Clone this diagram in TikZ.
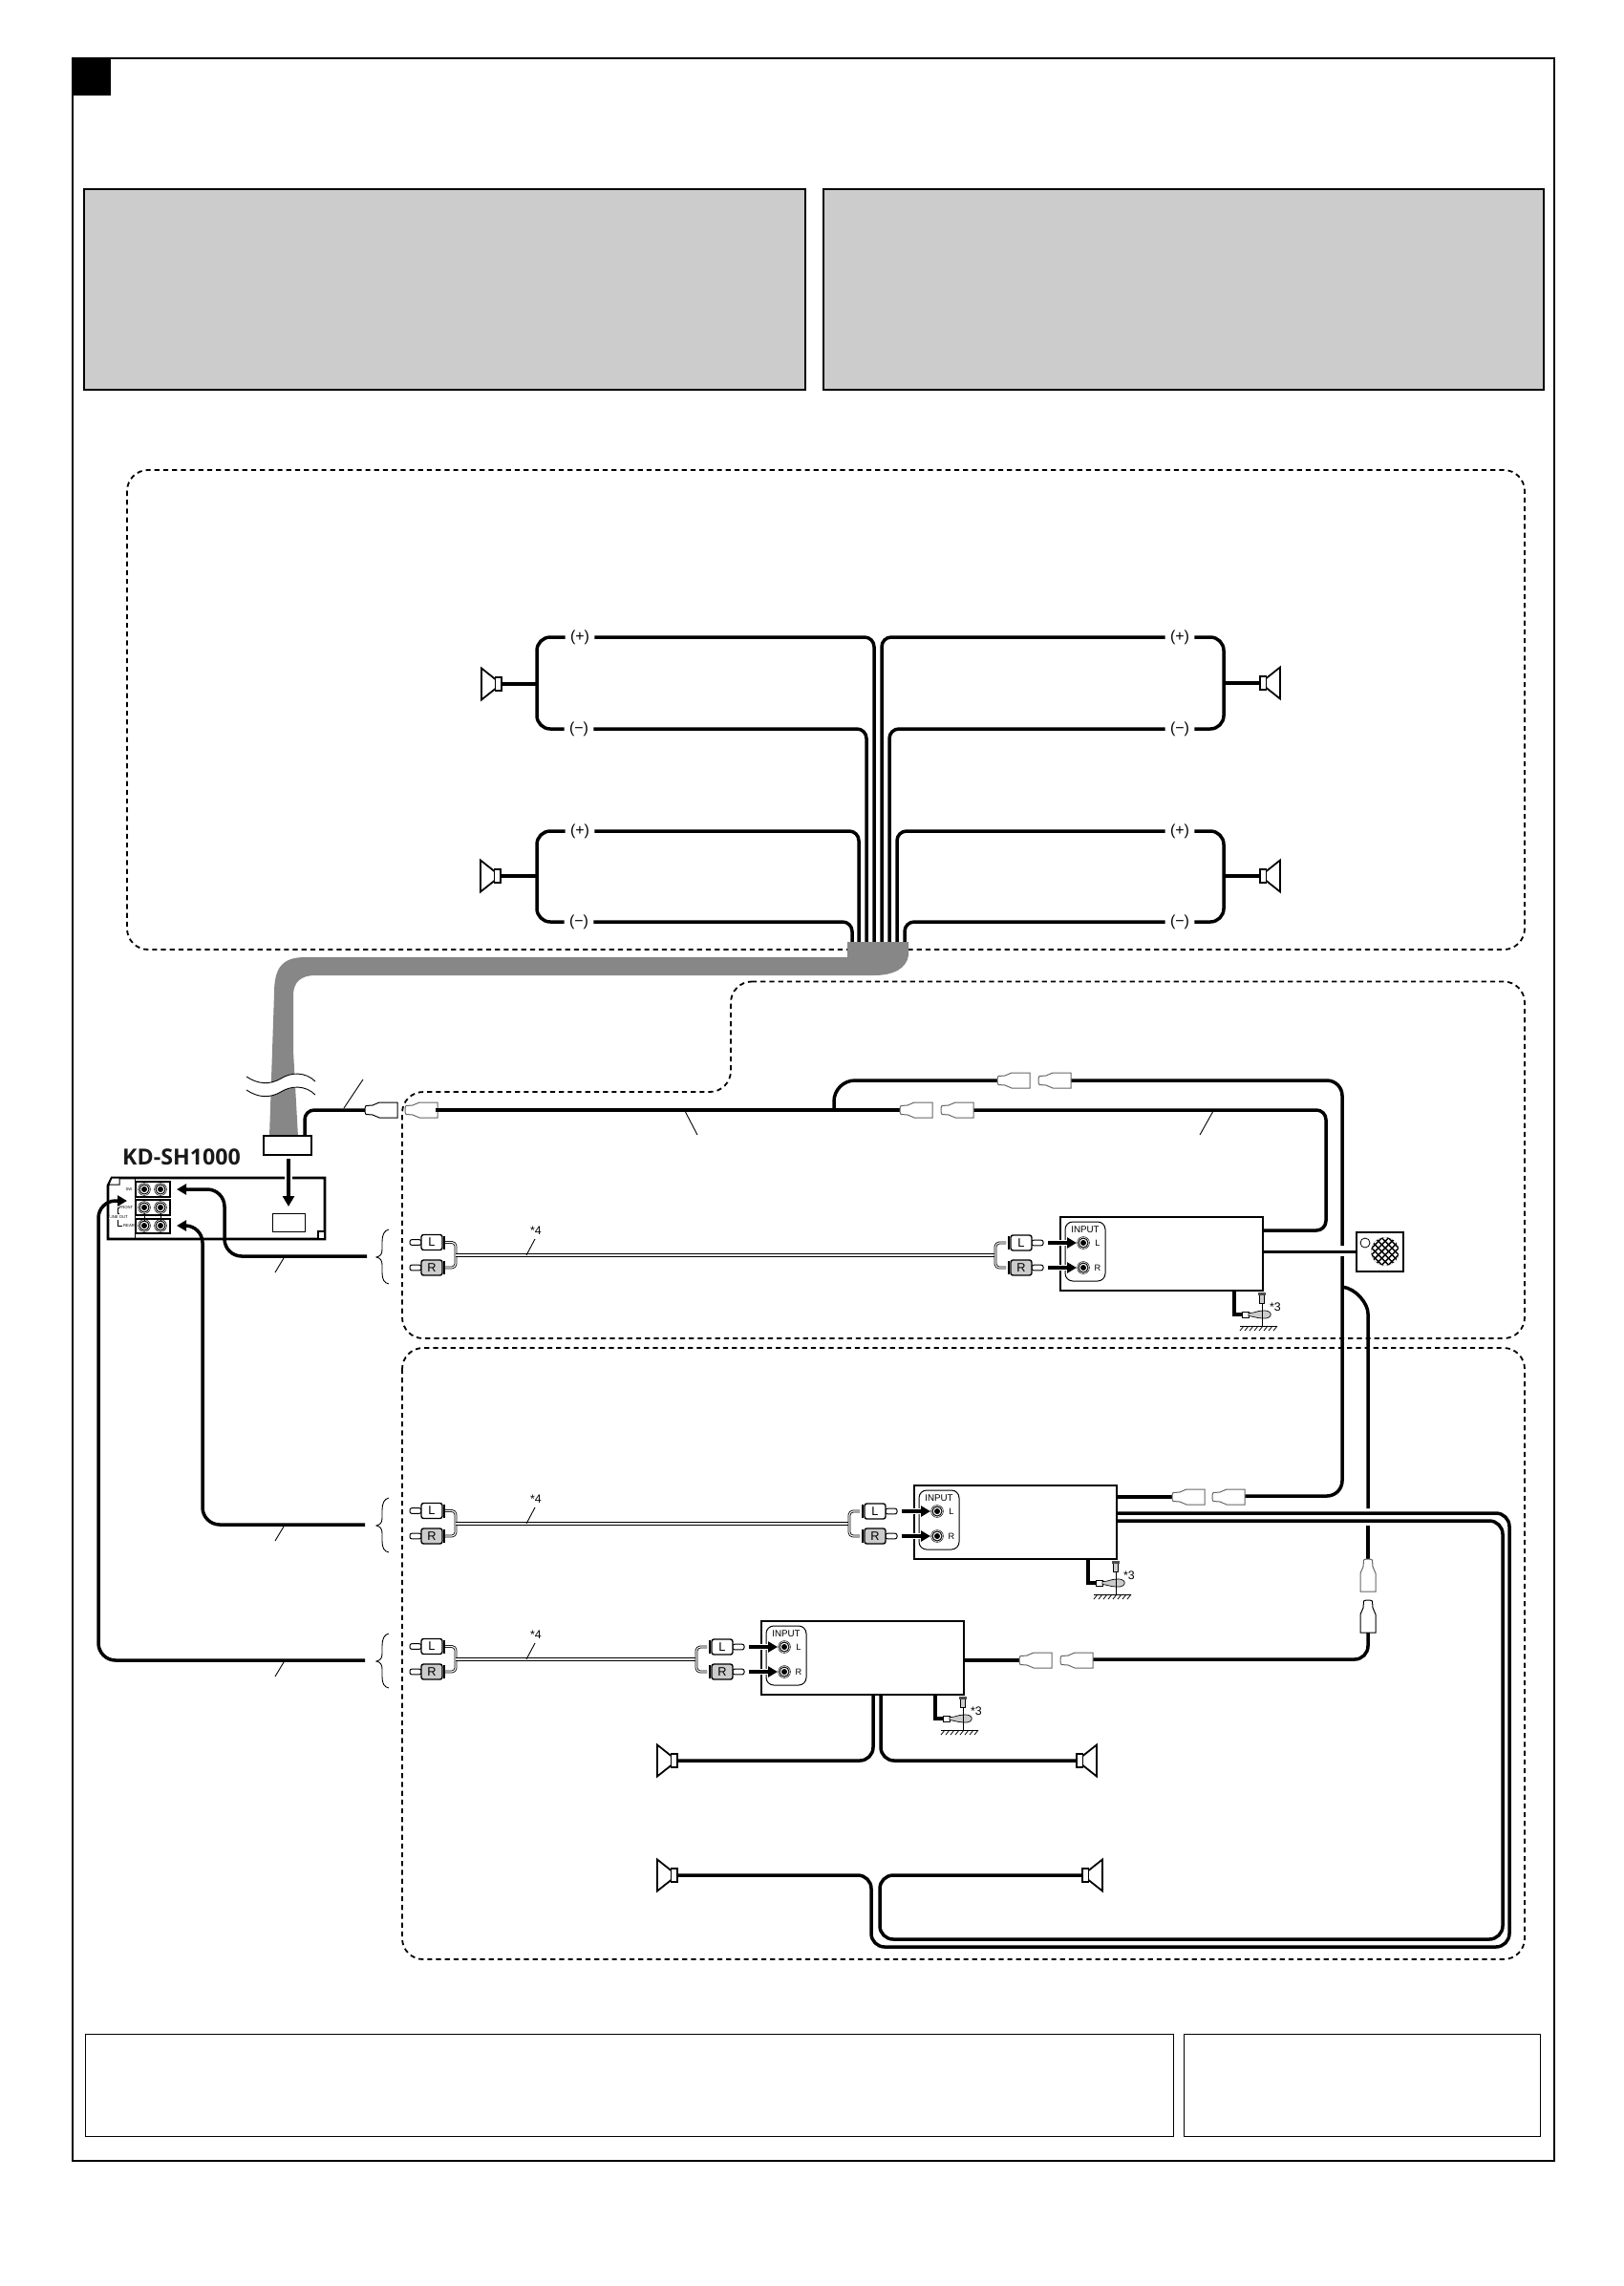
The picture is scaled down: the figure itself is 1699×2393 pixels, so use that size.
\documentclass[tikz,border=0pt]{standalone}
\usepackage{fontspec}
\setmainfont{Liberation Sans}
\newfontfamily\kdfont{Open Sans}
\newfontfamily\tinyfam[Scale=0.3]{Liberation Sans}
\usetikzlibrary{arrows.meta}
\definecolor{bandgray}{gray}{0.53}
\definecolor{panelgray}{gray}{0.80}
\tikzset{
  wire/.style={line width=1.75pt,line join=round,rounded corners=5pt},
  bigwire/.style={wire,rounded corners=7pt},
  arrowwire/.style={wire,-{Triangle[length=5pt,width=5.5pt]}},
  dashbox/.style={line width=.9pt,dash pattern=on 2.6pt off 2pt,rounded corners=11pt},
  thinl/.style={line width=.45pt},
  frameline/.style={line width=.9pt},
  cable/.style={line width=.42pt,double=white,double distance=.55pt,rounded corners=2pt},
  pm/.style={font=\fontsize{8}{9}\selectfont,inner sep=2.5pt},
  tinytext/.style={font=\fontsize{7}{8}\selectfont\tinyfam,inner sep=0pt},
  ampbox/.style={draw,fill=white,line width=1.1pt,minimum width=106pt,minimum height=38.5pt,inner sep=0pt},
}
\newcommand{\spk}[4]{%
  \coordinate (#1) at (#2,#3);
  \begin{scope}[shift={(#2,#3)},xscale=#4]
    \draw[line width=.9pt] (0,-7) rectangle (-6.5,7);
    \draw[line width=.9pt,line join=miter] (-6.5,-5) -- (-21,-16.5) -- (-21,16.5) -- (-6.5,5);
  \end{scope}}
\newcommand{\conn}[4]{%
  \begin{scope}[shift={(#1,#2)},rotate=#3]
    \draw[line width=.5pt,draw=#4,fill=white] (0,-2) -- (1,-4.5) -- (8,-5) -- (15,-8) -- (34,-8) -- (34,8) -- (15,8) -- (8,5) -- (1,4.5) -- (0,2) -- cycle;
  \end{scope}}
\newcommand{\plug}[6]{%
  \begin{scope}[shift={(#1,#2)},xscale=#5]
    \draw[line width=.5pt,fill=white,rounded corners=1pt] (11,-2.8) -- (23,-2.8) -- (23,2.8) -- (11,2.8) -- cycle;
    \draw[line width=1pt] (-13,-7) -- (-13,7);
    \draw[line width=.7pt,fill=#4,rounded corners=1.2pt] (-11,-8) rectangle (11,8);
    \node[font=\fontsize{6.4}{7}\selectfont,inner sep=0pt] (#6) at (0,0) {#3};
  \end{scope}}
\newcommand{\jackmark}[2]{%
  \fill (#1,#2) circle [radius=3];
  \draw[line width=.5pt] (#1,#2) circle [radius=5];
  \draw[line width=.25pt] (#1,#2) circle [radius=6.4];}
\newcommand{\ampunit}[3]{% name, dx, dy
  \pgfmathsetmacro\cableend{1042+#2}
  \begin{scope}[shift={(0,#3)}]
    \plug{452}{1300.5}{L}{white}{-1}{#1ll}
    \plug{452}{1327}{R}{panelgray}{-1}{#1lr}
    \draw[cable] (466,1300.5) -- (477,1300.5) -- (477,1314);
    \draw[cable] (466,1327) -- (477,1327) -- (477,1314);
    \fill (477,1311.7) rectangle (\cableend,1316.3);
    \fill[white] (477,1313.2) rectangle (\cableend,1314.8);
    \draw[thinl] (407,1287) .. controls (402,1288) and (400,1293) .. (400,1300) -- (400,1308) .. controls (400,1313) and (398,1315) .. (394,1316) .. controls (398,1317) and (400,1319) .. (400,1324) -- (400,1332) .. controls (400,1339) and (402,1343) .. (407,1344);
    \draw[thinl] (551,1314) -- (560,1297);
    \node[font=\fontsize{6.2}{7}\selectfont,inner sep=0pt] (#1cf) at (561,1288) {*4};
  \end{scope}
  \begin{scope}[shift={(#2,#3)}]
    \draw[cable] (1042,1314) -- (1042,1301) -- (1053,1301);
    \draw[cable] (1042,1314) -- (1042,1327) -- (1053,1327);
    \plug{1069}{1301}{L}{white}{1}{#1rl}
    \plug{1069}{1327}{R}{panelgray}{1}{#1rr}
    \node[ampbox] (#1) at (1216,1312.5) {};
    \draw[line width=.5pt,rounded corners=4pt] (1115,1279) rectangle (1157,1341);
    \node[font=\fontsize{4.9}{6}\selectfont,inner sep=0pt] (#1in) at (1136,1287.5) {INPUT};
    \jackmark{1134}{1301}
    \jackmark{1134}{1327}
    \node[font=\fontsize{4.6}{6}\selectfont,inner sep=0pt] (#1jl) at (1149,1301) {L};
    \node[font=\fontsize{4.6}{6}\selectfont,inner sep=0pt] (#1jr) at (1149,1327) {R};
    \draw[white,line width=3.2pt] (1097,1301) -- (1124,1301);
    \draw[white,line width=3.2pt] (1097,1327) -- (1124,1327);
    \draw[line width=1.75pt,-{Triangle[length=5pt,width=5.5pt]}] (1097,1301) -- (1127,1301);
    \draw[line width=1.75pt,-{Triangle[length=5pt,width=5.5pt]}] (1097,1327) -- (1127,1327);
    % ground
    \draw[line width=1.6pt,line join=miter] (1292,1351) -- (1292,1376) -- (1301,1376);
    \draw[line width=.35pt,fill=white] (1300,1373) rectangle (1307,1379);
    \draw[line width=.35pt,fill=panelgray] (1307,1374.5) .. controls (1312,1375) and (1316,1372) .. (1322,1372) .. controls (1333,1371) and (1333,1381) .. (1322,1380) .. controls (1316,1380) and (1312,1378) .. (1307,1377.5) -- cycle;
    \draw[line width=.35pt] (1321,1364) -- (1321,1388);
    \draw[line width=.35pt,fill=panelgray] (1318.5,1354) rectangle (1323.5,1364);
    \fill[black!70] (1317,1353) rectangle (1325,1356);
    \draw[line width=.5pt] (1298,1388) -- (1337,1388);
    \foreach \hatchx in {1302,1307,...,1337} \draw[line width=.4pt] (\hatchx,1388) -- (\hatchx-4,1393);
    \node[font=\fontsize{6.2}{7}\selectfont,inner sep=0pt] (#1st) at (1335,1368) {*3};
  \end{scope}}
\begin{document}
\begin{tikzpicture}[x=.5pt,y=-.5pt]
\useasboundingbox (0,0) rectangle (1699,2393);
\fill[white] (0,0) rectangle (1699,2393);
% page frame
\draw[frameline] (76,61) rectangle (1627,2262);
\fill (76,61) rectangle (116,100);
\draw[frameline,fill=panelgray] (88,198) rectangle (843,408);
\draw[frameline,fill=panelgray] (862,198) rectangle (1616,408);
\draw[line width=.4pt] (89,2129) rectangle (1228,2236);
\draw[line width=.4pt] (1239,2129) rectangle (1612,2236);
% dashed regions
\draw[dashbox] (133,492) rectangle (1596,994);
\draw[dashbox] (765,1027.5) -- (1596,1027.5) -- (1596,1401) -- (421,1401) -- (421,1143) -- (765,1143) -- cycle;
\draw[dashbox] (421,1411) rectangle (1596,2051);
% --- front speakers
\node[pm] (tlp) at (607,667) {(+)};
\node[pm] (tlm) at (606,763) {(−)};
\node[pm] (blp) at (607,870) {(+)};
\node[pm] (blm) at (606,965) {(−)};
\node[pm] (trp) at (1235,667) {(+)};
\node[pm] (trm) at (1235,763) {(−)};
\node[pm] (brp) at (1235,870) {(+)};
\node[pm] (brm) at (1235,965) {(−)};
\spk{sptl}{525}{716}{1}
\spk{spbl}{524}{917}{1}
\spk{sptr}{1319}{715}{-1}
\spk{spbr}{1319}{917}{-1}
\draw[bigwire] (tlp.west) -- (562,667) -- (562,763) -- (tlm.west);
\draw[bigwire] (blp.west) -- (562,870) -- (562,965) -- (blm.west);
\draw[bigwire] (trp.east) -- (1281,667) -- (1281,763) -- (trm.east);
\draw[bigwire] (brp.east) -- (1281,870) -- (1281,965) -- (brm.east);
\draw[wire] (sptl) -- (562,716);
\draw[wire] (spbl) -- (562,917);
\draw[wire] (sptr) -- (1281,715);
\draw[wire] (spbr) -- (1281,917);
\draw[wire] (tlp.east) -- (915,667) -- (915,988);
\draw[wire] (tlm.east) -- (907,763) -- (907,988);
\draw[wire] (blp.east) -- (899,870) -- (899,988);
\draw[wire] (blm.east) -- (892,965) -- (892,988);
\draw[wire] (trp.west) -- (923,667) -- (923,988);
\draw[wire] (trm.west) -- (931,763) -- (931,988);
\draw[wire] (brp.west) -- (939,870) -- (939,988);
\draw[wire] (brm.west) -- (947,965) -- (947,988);
% --- grey harness
\fill[bandgray] (887,986) -- (951,986) -- (951,1000) .. controls (949,1014) and (935,1021) .. (915,1021) -- (330,1021) .. controls (315,1021) and (307,1028) .. (307,1042) -- (307,1100) -- (312,1190) -- (282,1190) -- (285,1100) -- (287,1040) .. controls (287,1012) and (296,1002) .. (320,1002) -- (887,1002) -- cycle;
\fill[white] (258,1127) .. controls (270,1135) and (282,1136) .. (294,1129) .. controls (305,1122) and (320,1122) .. (330,1132) -- (330,1146) .. controls (320,1136) and (305,1136) .. (294,1143) .. controls (282,1150) and (270,1149) .. (258,1141) -- cycle;
\draw[line width=.45pt] (258,1127) .. controls (270,1135) and (282,1136) .. (294,1129) .. controls (305,1122) and (320,1122) .. (330,1132);
\draw[line width=.45pt] (258,1141) .. controls (270,1149) and (282,1150) .. (294,1143) .. controls (305,1136) and (320,1136) .. (330,1146);
% --- head unit
\node[draw,fill=white,line width=.7pt,minimum width=25pt,minimum height=10pt,inner sep=0pt] (hconn) at (301,1199) {};
\draw[line width=1.35pt,line join=miter] (117,1233) -- (340,1233) -- (340,1297) -- (113,1297) -- (113,1241) -- cycle;
\draw[line width=.5pt,fill=white] (117,1233) -- (125,1233) -- (125,1240) -- (114,1240) -- cycle;
\draw[line width=.8pt,fill=white] (333,1289) rectangle (340,1297);
\draw[line width=.4pt] (141,1234) -- (141,1297);
\draw[line width=.6pt] (142,1237) rectangle (178,1253);
\draw[line width=.6pt] (142,1256) rectangle (178,1272);
\draw[line width=.6pt] (142,1276) rectangle (178,1291);
\draw[line width=.5pt] (151,1270) -- (151,1278);
\draw[line width=.5pt] (168,1270) -- (168,1278);
\jackmark{151}{1245} \jackmark{151}{1264} \jackmark{151}{1283}
\jackmark{168}{1245} \jackmark{168}{1264} \jackmark{168}{1283}
\node[tinytext] (lblsw) at (135,1245) {SW};
\node[tinytext] (lblfront) at (132,1264) {FRONT};
\node[tinytext] (lblrear) at (135,1283) {REAR};
\node[tinytext,fill=white] (lineout) at (124,1274) {LINE OUT};
\draw[line width=.35pt] (125,1270) -- (123.5,1270) -- (123.5,1264) -- (125,1264);
\draw[line width=.35pt] (123.5,1277) -- (123.5,1283) -- (128,1283);
\node[draw,fill=white,line width=.5pt,minimum width=17pt,minimum height=9.5pt,inner sep=0pt] (hsock) at (302,1279.5) {};
\draw[white,line width=3.6pt] (302,1214) -- (302,1255);
\draw[line width=1.75pt,-{Triangle[length=5.5pt,width=6pt]}] (302,1213) -- (302,1263);
\node[font=\kdfont\bfseries\fontsize{11.6}{13}\selectfont,text=black!90,inner sep=0pt] (kdname) at (190,1211) {KD-SH1000};
% --- harness wire to first connector
\coordinate (c1in) at (382,1162);
\draw[wire] (319,1189) -- (319,1162) -- (c1in);
\draw[thinl] (360,1160) -- (380,1130);
\conn{382}{1162}{0}{black}
\conn{424}{1162}{0}{black!60}
% --- line-in amplifier units
\ampunit{ampa}{0}{0}
\ampunit{ampb}{-153}{281}
\ampunit{ampc}{-313}{423}
% --- RCA leads to head unit
\draw[arrowwire,rounded corners=9pt] (384,1315) -- (235,1315) -- (235,1245) -- (185,1245);
\draw[arrowwire,rounded corners=9pt] (382,1596) -- (212,1596) -- (212,1283) -- (185,1283);
\draw[arrowwire,rounded corners=9pt] (382,1738) -- (103,1738) -- (103,1257) -- (133,1257);
\draw[thinl] (297,1317) -- (288,1332);
\draw[thinl] (297,1598) -- (288,1613);
\draw[thinl] (297,1740) -- (288,1755);
% --- remote wires
\draw[wire] (456,1162) -- (945,1162);
\draw[wire] (1016,1162) -- (1388,1162) -- (1388,1288) -- (1322,1288);
\draw[wire,rounded corners=11pt] (873,1162) -- (873,1131) -- (1060,1131);
\draw[wire,rounded corners=8pt] (1100,1131) -- (1405,1131) -- (1405,1304);
\draw[wire,rounded corners=8pt] (1405,1315) -- (1405,1566) -- (1290,1566);
\draw[wire] (1168,1567) -- (1240,1567);
\draw[thinl] (717,1163) -- (730,1188);
\draw[thinl] (1256,1188) -- (1270,1163);
\conn{942}{1162}{0}{black!60}
\conn{985}{1162}{0}{black!60}
\conn{1044}{1131}{0}{black!60}
\conn{1087}{1131}{0}{black!60}
\conn{1227}{1567}{0}{black!60}
\conn{1269}{1567}{0}{black!60}
% --- subwoofer control
\node[draw,fill=white,line width=1pt,minimum width=24.5pt,minimum height=20.5pt,inner sep=0pt] (subw) at (1444.5,1310.5) {};
\draw[line width=.4pt] (1429,1301) circle [radius=5];
\begin{scope}
  \clip (1450,1310) circle [radius=14.8];
  \fill (1450,1310) circle [radius=14.8];
  \begin{scope}[shift={(1450,1310)},rotate=45]
    \foreach \meshi in {-20,-15,...,20} \foreach \meshj in {-20,-15,...,20}
      \fill[white] (\meshi-1.6,\meshj-1.6) rectangle (\meshi+1.6,\meshj+1.6);
  \end{scope}
\end{scope}
\draw[line width=1.75pt] (1322,1310.5) -- (subw.west);
% --- remote wire from third amp
\draw[wire] (1405,1347) .. controls (1420,1349) and (1432,1365) .. (1432,1385) -- (1432,1579);
\draw[wire] (1432,1597) -- (1432,1634);
\conn{1432}{1632}{-90}{black!60}
\conn{1432}{1675}{-90}{black}
\draw[wire,rounded corners=7pt] (1432,1709) -- (1432,1737) -- (1140,1737);
\draw[wire] (1008,1738) -- (1075,1738);
\conn{1067}{1738}{0}{black!60}
\conn{1110}{1738}{0}{black!60}
% --- rear speakers from second amp
\draw[wire,rounded corners=7pt] (1168,1584) -- (1580,1584) -- (1580,2038) -- (912,2038) -- (912,1963) -- (709,1963);
\draw[wire,rounded corners=7pt] (1168,1592) -- (1573,1592) -- (1573,2030) -- (921,2030) -- (921,1963) -- (1133,1963);
\draw[wire,rounded corners=7pt] (914,1774) -- (914,1843) -- (709,1843);
\draw[wire,rounded corners=7pt] (922,1774) -- (922,1843) -- (1127,1843);
\spk{spa}{709}{1843}{1}
\spk{spb}{709}{1963}{1}
\spk{spc}{1127}{1843}{-1}
\spk{spd}{1133}{1963}{-1}
\end{tikzpicture}
\end{document}
